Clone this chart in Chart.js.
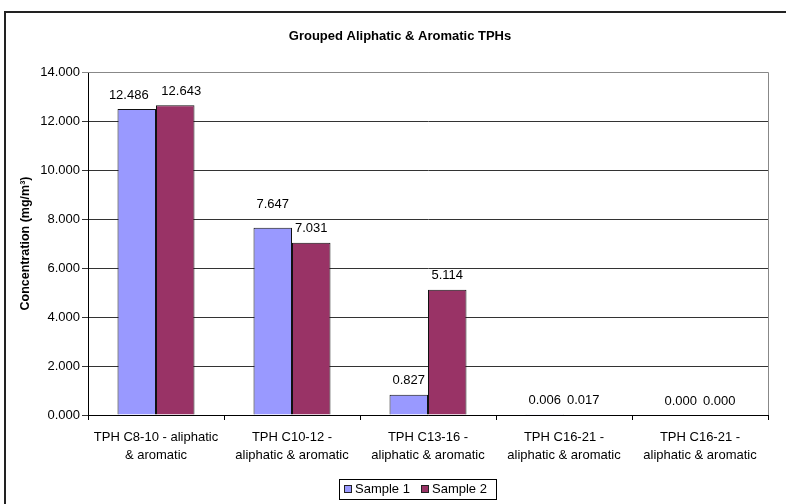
<!DOCTYPE html>
<html>
<head>
<meta charset="utf-8">
<style>
  body { margin: 0; background: #fff; }
  #wrap { width: 786px; height: 504px; }
</style>
<script src="https://cdn.jsdelivr.net/npm/chart.js@4/dist/chart.umd.min.js"></script>
</head>
<body>
<div id="wrap"><canvas id="tphChart" width="786" height="504"></canvas></div>
<script>
// values
var categories = [
    ['TPH C8-10 - aliphatic', '& aromatic'],
    ['TPH C10-12 -', 'aliphatic & aromatic'],
    ['TPH C13-16 -', 'aliphatic & aromatic'],
    ['TPH C16-21 -', 'aliphatic & aromatic'],
    ['TPH C16-21 -', 'aliphatic & aromatic']
];
var sample1 = [12.486, 7.647, 0.827, 0.006, 0.000];
var sample2 = [12.643, 7.031, 5.114, 0.017, 0.000];
var seriesNames = ['Sample 1', 'Sample 2'];
var yTicks = [0, 2, 4, 6, 8, 10, 12, 14];

var FONT = 'Arial, "Liberation Sans", sans-serif';

// frame, title, value labels and boxed legend, Excel style
var excelBits = {
    id: 'excelBits',
    afterDraw: function (chart) {
        var ctx = chart.ctx;
        var area = chart.chartArea;
        ctx.save();

        // outer chart border
        ctx.strokeStyle = '#222';
        ctx.lineWidth = 2;
        ctx.strokeRect(5, 12, 800, 520);

        // top and right sides of plot area
        ctx.strokeStyle = '#888';
        ctx.lineWidth = 1;
        ctx.beginPath();
        ctx.moveTo(area.left, area.top + 0.5);
        ctx.lineTo(area.right + 0.5, area.top + 0.5);
        ctx.lineTo(area.right + 0.5, area.bottom);
        ctx.stroke();

        // title
        ctx.fillStyle = '#000';
        ctx.font = 'bold 13px ' + FONT;
        ctx.textAlign = 'center';
        ctx.textBaseline = 'middle';
        ctx.fillText('Grouped Aliphatic & Aromatic TPHs', 400, 36);

        // value labels
        ctx.font = '13px ' + FONT;
        chart.data.datasets.forEach(function (ds, i) {
            chart.getDatasetMeta(i).data.forEach(function (bar, j) {
                var x = bar.x, y = bar.y - 14;
                // excel nudged these apart so they don't collide
                if (j === 0) x += (i === 0 ? -8 : 6);
                if (i === 0 && j === 1) y -= 9;
                ctx.fillText(ds.data[j].toFixed(3), x, y);
            });
        });

        // legend
        var lx = 339, ly = 479, lw = 157, lh = 20;
        ctx.strokeStyle = '#000';
        ctx.strokeRect(lx + 0.5, ly + 0.5, lw, lh);
        var itemX = [344, 421];
        ctx.textAlign = 'left';
        chart.data.datasets.forEach(function (ds, i) {
            ctx.fillStyle = ds.backgroundColor;
            ctx.fillRect(itemX[i], ly + 6, 8, 8);
            ctx.strokeStyle = '#222';
            ctx.strokeRect(itemX[i] + 0.5, ly + 6.5, 7, 7);
            ctx.fillStyle = '#000';
            ctx.fillText(ds.label, itemX[i] + 11, ly + 10.5);
        });
        ctx.restore();
    }
};

var ctx = document.getElementById('tphChart').getContext('2d');
var myChart = new Chart(ctx, {
    type: 'bar',
    data: {
        labels: categories,
        datasets: [{
            label: seriesNames[0],
            data: sample1,
            backgroundColor: '#9999FF',
            borderColor: '#111',
            borderWidth: 1
        }, {
            label: seriesNames[1],
            data: sample2,
            backgroundColor: '#993366',
            borderColor: '#111',
            borderWidth: 1
        }]
    },
    options: {
        responsive: false,
        animation: false,
        events: [],
        layout: {
            padding: { top: 72, right: 18, left: 0, bottom: 0 }
        },
        datasets: {
            bar: { categoryPercentage: 0.566, barPercentage: 1.0 }
        },
        plugins: {
            legend: { display: false },
            title: { display: false },
            tooltip: { enabled: false }
        },
        scales: {
            x: {
                afterFit: function (s) { s.height = 89; },
                grid: {
                    offset: true,
                    drawOnChartArea: false,
                    drawTicks: true,
                    tickLength: 5,
                    color: '#000'
                },
                border: { color: '#000' },
                ticks: {
                    color: '#000',
                    padding: 8,
                    maxRotation: 0,
                    font: { family: FONT, size: 13, lineHeight: 1.4 }
                }
            },
            y: {
                min: 0,
                max: 14,
                afterFit: function (s) { s.width = 88; },
                afterBuildTicks: function (s) {
                    s.ticks = yTicks.map(function (v) { return { value: v }; });
                },
                grid: {
                    color: function (c) { return c.tick && c.tick.value === 14 ? '#888' : '#333'; },
                    tickLength: 6
                },
                border: { color: '#000' },
                ticks: {
                    color: '#000',
                    padding: 2,
                    font: { family: FONT, size: 13 },
                    callback: function (v) { return Number(v).toFixed(3); }
                },
                title: {
                    display: true,
                    text: 'Concentration (mg/m³)',
                    color: '#000',
                    padding: { top: 18, bottom: 0 },
                    font: { family: FONT, size: 12.5, weight: 'bold' }
                }
            }
        }
    },
    plugins: [excelBits]
});
</script>
</body>
</html>
